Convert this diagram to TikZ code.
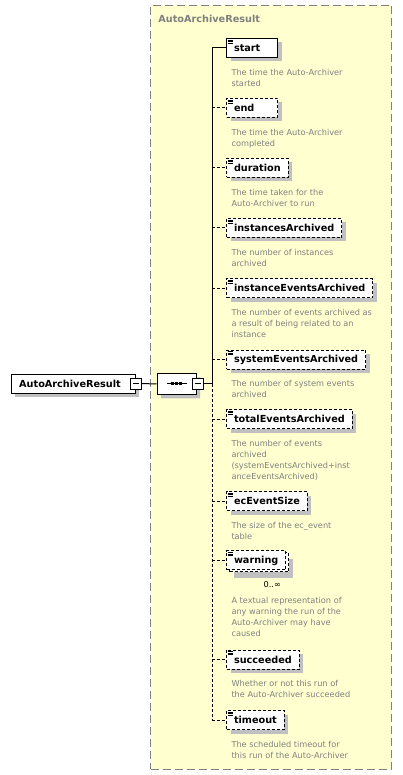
\documentclass[tikz,border=0pt]{standalone}
\usepackage{fontspec}
\setmainfont{DejaVu Sans}
\usetikzlibrary{positioning,shadows,shapes.misc}

\definecolor{panelfill}{RGB}{255,255,208}
\definecolor{panelline}{RGB}{128,128,128}
\definecolor{doctext}{RGB}{128,128,128}
\definecolor{shade}{RGB}{192,192,192}

\tikzset{
	optline/.style={dash pattern=on 3pt off 2pt},
	elembase/.style={draw, fill=white, line width=1pt, anchor=west, minimum width=51pt, minimum height=19pt, inner xsep=7.5pt, inner ysep=0pt, font=\fontsize{9.7}{11}\selectfont\bfseries},
	elem/.style={elembase, drop shadow={shadow xshift=4pt, shadow yshift=-4pt, fill=shade, opacity=1, draw=none}},
	optelem/.style={elem, optline},
	shortname/.style={text width=36pt, align=left},
	doc/.style={align=left, inner sep=0pt, text=doctext, font=\fontsize{8.2}{11}\selectfont},
	btn/.style={draw, fill=white, line width=1pt, minimum size=11pt, inner sep=0pt,
		drop shadow={shadow xshift=1pt, shadow yshift=-1pt, fill=black, opacity=1, draw=none},
		path picture={\draw[line width=1pt] ([xshift=2.5pt]path picture bounding box.west) -- ([xshift=-2.5pt]path picture bounding box.east);}},
}

\begin{document}
\begin{tikzpicture}[x=1pt, y=-1pt, line width=1pt]
	\useasboundingbox (0,0) rectangle (403,775);

	% content of the complex type
	\node[draw=panelline, fill=panelfill, dash pattern=on 8pt off 4pt, minimum width=241pt, minimum height=764pt, inner sep=0pt] (panel) at (271.3,387.2) {};
	\node[below right=9.5pt and 7.6pt of panel.north west, inner sep=0pt, text=doctext, font=\fontsize{9.7}{11}\selectfont\bfseries] (title) {AutoArchiveResult};

	% root element and sequence
	\node[elem, text width=108pt, align=left, inner xsep=8pt] (root) at (10.7,383.7) {AutoArchiveResult};
	\node[btn] (rootbtn) at (root.east) {};
	\node[chamfered rectangle, chamfered rectangle xsep=6pt, chamfered rectangle ysep=5pt, draw, fill=white, minimum width=39pt, minimum height=21pt, inner sep=0pt,
		drop shadow={shadow xshift=4pt, shadow yshift=-4pt, fill=shade, opacity=1, draw=none}] (seq) at (176.5,383.8) {};
	\draw ([xshift=-10pt]seq.center) -- ([xshift=10pt]seq.center);
	\foreach \dx in {-4,0,4}
		\fill ([xshift=\dx pt]seq.center) +(-1.5,-1.5) rectangle +(1.5,1.5);
	\node[btn] (seqbtn) at ([xshift=1pt]seq.east) {};
	\coordinate[right=8.5pt of seqbtn.east] (spine);

	% child elements
	\node[elem, shortname] (start) at (226,48) {start};
	\node[optelem, shortname] (end) at (226,108) {end};
	\node[optelem] (duration) at (226,168) {duration};
	\node[optelem] (instancesArchived) at (226,228) {instancesArchived};
	\node[optelem] (instanceEventsArchived) at (226,288) {instanceEventsArchived};
	\node[optelem] (systemEventsArchived) at (226,359.5) {systemEventsArchived};
	\node[optelem] (totalEventsArchived) at (226,419) {totalEventsArchived};
	\node[optelem] (ecEventSize) at (226,501) {ecEventSize};
	\node[elembase, optline,
		drop shadow={shadow xshift=7pt, shadow yshift=-8pt, fill=shade, opacity=1, draw=none},
		copy shadow={shadow xshift=3pt, shadow yshift=-2pt, draw=black, fill=white, opacity=1, optline}] (warning) at (226,560.4) {warning};
	\node[optelem] (succeeded) at (226,659.5) {succeeded};
	\node[optelem] (timeout) at (226,720) {timeout};
	\node[below left=11pt and 5pt of warning.south east, inner sep=0pt, font=\fontsize{8.2}{11}\selectfont] (warnmult) {0..∞};

	\foreach \n in {start,end,duration,instancesArchived,instanceEventsArchived,systemEventsArchived,totalEventsArchived,ecEventSize,warning,succeeded,timeout}
		\foreach \dy in {1.5,3,4.5}
			\draw[line width=0.7pt] ([xshift=1.5pt,yshift=-0.5pt]\n.north west) ++(0,\dy) -- ++(5,0);

	% annotations
	\node[doc, below right=10.5pt and 5pt of start.south west] (startdoc) {The time the Auto-Archiver\\started};
	\node[doc, below right=10.5pt and 5pt of end.south west] (enddoc) {The time the Auto-Archiver\\completed};
	\node[doc, below right=10.5pt and 5pt of duration.south west] (durationdoc) {The time taken for the\\Auto-Archiver to run};
	\node[doc, below right=10.5pt and 5pt of instancesArchived.south west] (instancesdoc) {The number of instances\\archived};
	\node[doc, below right=10.5pt and 5pt of instanceEventsArchived.south west] (instanceeventsdoc) {The number of events archived as\\a result of being related to an\\instance};
	\node[doc, below right=10.5pt and 5pt of systemEventsArchived.south west] (systemeventsdoc) {The number of system events\\archived};
	\node[doc, below right=10.5pt and 5pt of totalEventsArchived.south west] (totaleventsdoc) {The number of events\\archived\\(systemEventsArchived+inst\\anceEventsArchived)};
	\node[doc, below right=10.5pt and 5pt of ecEventSize.south west] (sizedoc) {The size of the ec\_event\\table};
	\node[doc, below right=26.5pt and 5pt of warning.south west] (warningdoc) {A textual representation of\\any warning the run of the\\Auto-Archiver may have\\caused};
	\node[doc, below right=10.5pt and 5pt of succeeded.south west] (succeededdoc) {Whether or not this run of\\the Auto-Archiver succeeded};
	\node[doc, below right=10.5pt and 5pt of timeout.south west] (timeoutdoc) {The scheduled timeout for\\this run of the Auto-Archiver};

	% connectors
	\draw (rootbtn.east) -- (seq.west);
	\draw (seqbtn.east) -- (spine);
	\draw (spine) -- (spine |- start.west) -- (start.west);
	\draw[optline] (spine) -- (spine |- timeout.west);
	\foreach \n in {end,duration,instancesArchived,instanceEventsArchived,systemEventsArchived,totalEventsArchived,ecEventSize,warning,succeeded,timeout}
		\draw[optline] (spine |- \n.west) -- (\n.west);
\end{tikzpicture}
\end{document}
